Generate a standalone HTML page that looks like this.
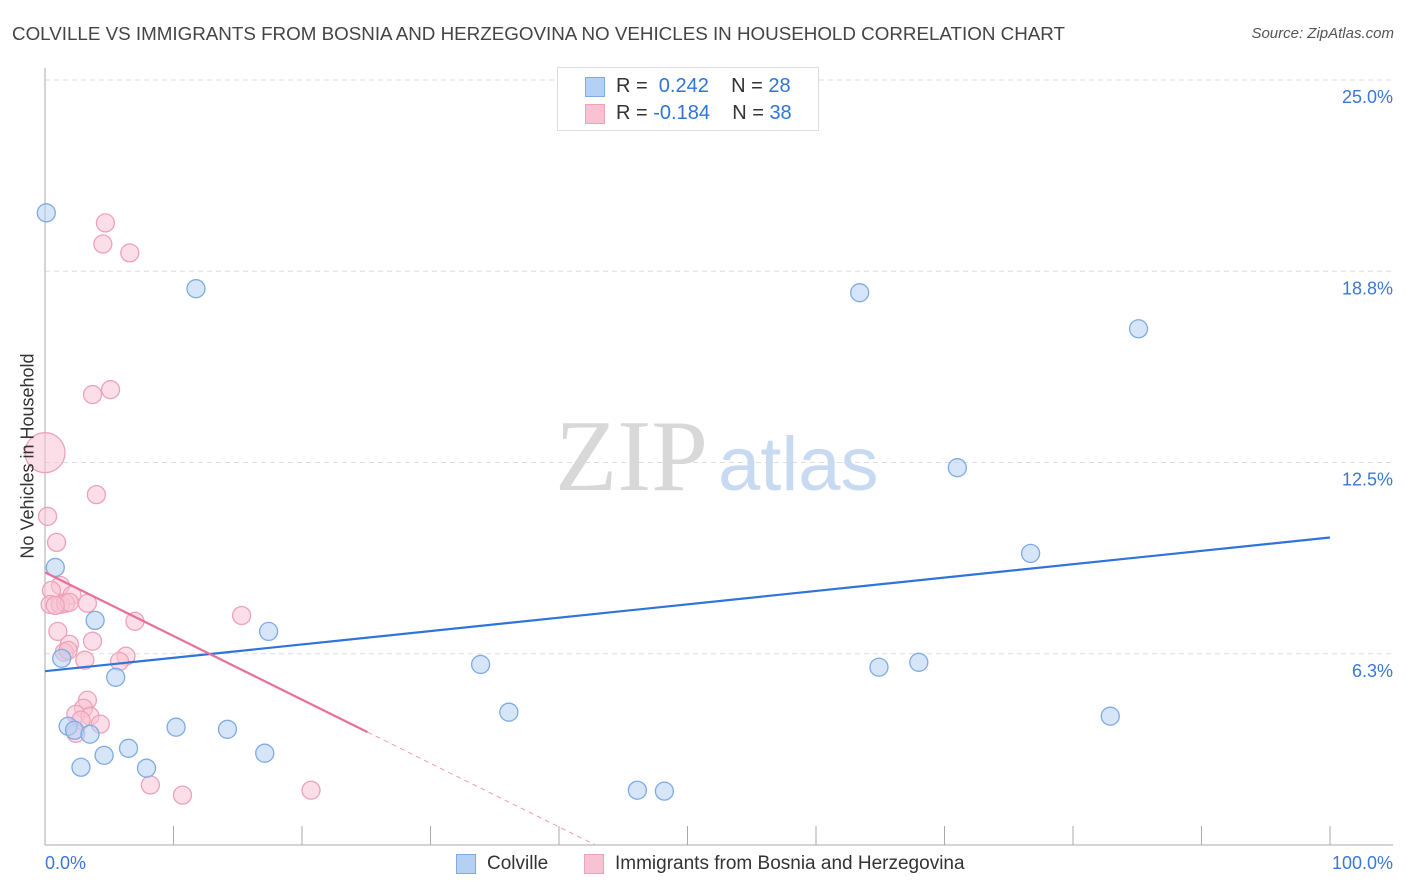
<!DOCTYPE html>
<html><head><meta charset="utf-8"><style>
body{margin:0;background:#fff;font-family:"Liberation Sans",sans-serif;}
#wrap{position:relative;width:1406px;height:892px;overflow:hidden;}
.t{position:absolute;white-space:nowrap;}
</style></head><body>
<div id="wrap">
<div class="t" style="left:12px;top:23px;font-size:18.8px;color:#444;">COLVILLE VS IMMIGRANTS FROM BOSNIA AND HERZEGOVINA NO VEHICLES IN HOUSEHOLD CORRELATION CHART</div>
<div class="t" style="right:12px;top:25px;font-size:15px;color:#555;font-style:italic;">Source: ZipAtlas.com</div>
<svg id="svg" width="1406" height="892" style="position:absolute;left:0;top:0"></svg>
</div>
<script>
const yTicks=[25,18.75,12.5,6.25];
const yTickLabels=["25.0%","18.8%","12.5%","6.3%"];
const blueX=[0.1,11.75,63.4,85.1,71.0,76.7,0.8,3.9,17.4,1.3,5.5,33.9,64.9,68.0,36.1,82.9,1.8,2.3,3.5,10.2,14.2,6.5,4.6,17.1,2.8,7.9,46.1,48.2];
const blueY=[20.66,18.18,18.05,16.87,12.33,9.53,9.07,7.34,6.98,6.10,5.48,5.90,5.81,5.97,4.34,4.21,3.88,3.75,3.62,3.85,3.78,3.16,2.93,3.00,2.54,2.51,1.79,1.76];
const pinkX=[4.7,4.5,6.6,5.1,3.7,4.0,0.2,0.9,1.2,0.5,2.1,0.4,1.2,1.6,1.9,3.3,7.0,15.3,1.0,3.7,1.9,1.5,1.8,6.3,5.8,3.1,3.3,3.0,2.4,3.5,2.8,4.3,2.4,8.2,10.7,20.7,0.8];
const pinkY=[20.33,19.64,19.35,14.88,14.72,11.45,10.74,9.89,8.48,8.32,8.16,7.86,7.86,7.90,7.93,7.90,7.31,7.50,6.98,6.66,6.56,6.30,6.36,6.17,6.00,6.04,4.73,4.47,4.27,4.21,4.08,3.95,3.65,1.96,1.63,1.79,7.83];
const bigPinkX=[0], bigPinkY=[12.82];
const blueLine=[5.68,10.05];
const pinkLine=[8.91,-0.208];
const NS="http://www.w3.org/2000/svg";
const svg=document.getElementById('svg');
const X0=45,X1=1330,YB=845,YT=80;
const sx=v=>X0+(X1-X0)*v/100;
const sy=v=>YB-(YB-YT)*v/25;
function mk(tag,a){const e=document.createElementNS(NS,tag);for(const k in a)e.setAttribute(k,a[k]);svg.appendChild(e);return e;}
yTicks.forEach((v,i)=>{
 const g=mk('line',{x1:X0,x2:1393,y1:sy(v),y2:sy(v),stroke:'#ddd','stroke-dasharray':'5,4'});
 
 
 const t=mk('text',{x:1393,y:sy(v)+23,'text-anchor':'end','font-size':18,fill:'#3a78d8','font-family':'Liberation Sans'});
 t.textContent=yTickLabels[i];
 
 
});
let ax=mk('line',{x1:X0,x2:X0,y1:68,y2:YB,stroke:'#aaa'});


ax=mk('line',{x1:X0,x2:1393,y1:YB,y2:YB,stroke:'#aaa'});


for(let i=1;i<=10;i++){const tk=mk('line',{x1:sx(i*10),x2:sx(i*10),y1:826,y2:YB,stroke:'#aaa'});
 
 }
const wm=mk('text',{x:555,y:490,'font-size':102,fill:'#d8d8d8','font-family':'Liberation Serif'});wm.textContent='ZIP';


const wm2=mk('text',{x:718,y:490,'font-size':76,fill:'#c8daf2','font-family':'Liberation Sans'});wm2.textContent='atlas';


function dots(xs,ys,r,fill,stroke,name){xs.forEach((x,i)=>{const c=mk('circle',{cx:sx(x),cy:sy(ys[i]),r:r,fill:fill,stroke:stroke,'stroke-width':1.3,'fill-opacity':0.55});
 
 });}
dots(pinkX,pinkY,9,'#f7c3d3','#eea2b8','pink-point');
dots(bigPinkX,bigPinkY,20,'#f7c3d3','#eea2b8','pink-point-large');
dots(blueX,blueY,9,'#b5d0f3','#7eabe6','blue-point');
let l=mk('line',{x1:sx(0),y1:sy(blueLine[0]),x2:sx(100),y2:sy(blueLine[1]),stroke:'#2f74d8','stroke-width':2.2});


const pEnd=25.1, zeroX=-pinkLine[0]/pinkLine[1];
l=mk('line',{x1:sx(0),y1:sy(pinkLine[0]),x2:sx(pEnd),y2:sy(pinkLine[0]+pinkLine[1]*pEnd),stroke:'#e8709a','stroke-width':2.2});


l=mk('line',{x1:sx(pEnd),y1:sy(pinkLine[0]+pinkLine[1]*pEnd),x2:sx(zeroX),y2:sy(0),stroke:'#e8a0b8','stroke-width':1,'stroke-dasharray':'5,4'});


</script>
<div class="t" style="left:45px;top:853px;font-size:18px;color:#3a78d8;">0.0%</div>
<div class="t" style="right:13px;top:853px;font-size:18px;color:#3a78d8;">100.0%</div>
<div class="t" style="left:28px;top:456px;font-size:18px;color:#333;transform:translate(-50%,-50%) rotate(-90deg);">No Vehicles in Household</div>
<div style="position:absolute;left:557px;top:67px;width:260px;height:62px;border:1px solid #ddd;background:#fff;font-size:20px;color:#333;">
 <div style="position:absolute;left:27px;top:9px;width:18px;height:18px;background:#b5d0f3;border:1px solid #7eabe6;"></div>
 <div class="t" style="left:58px;top:7px;">R = &nbsp;<span style="color:#2f74d8">0.242</span>&nbsp;&nbsp;&nbsp; N = <span style="color:#2f74d8">28</span></div>
 <div style="position:absolute;left:27px;top:36px;width:18px;height:18px;background:#f7c3d3;border:1px solid #eea2b8;"></div>
 <div class="t" style="left:58px;top:34px;">R = <span style="color:#2f74d8">-0.184</span>&nbsp;&nbsp;&nbsp; N = <span style="color:#2f74d8">38</span></div>
</div>
<div style="position:absolute;left:456px;top:854px;font-size:19px;color:#333;">
 <div style="position:absolute;left:0;top:0;width:18px;height:18px;background:#b5d0f3;border:1px solid #7eabe6;"></div>
 <div class="t" style="left:31px;top:-1px;">Colville</div></div>
<div style="position:absolute;left:584px;top:854px;font-size:19px;color:#333;">
 <div style="position:absolute;left:0;top:0;width:18px;height:18px;background:#f7c3d3;border:1px solid #eea2b8;"></div>
 <div class="t" style="left:31px;top:-1px;">Immigrants from Bosnia and Herzegovina</div></div>
</body></html>
